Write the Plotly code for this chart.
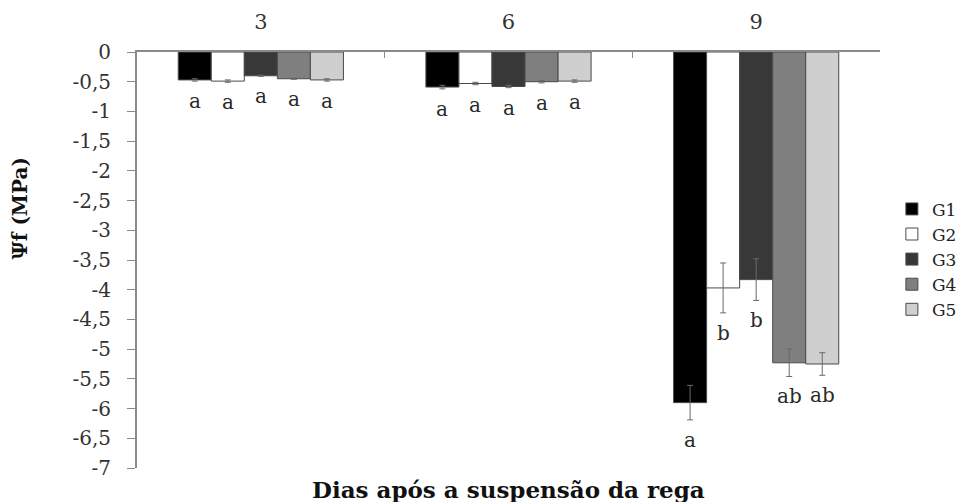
import plotly.graph_objects as go

days = ["3", "6", "9"]
groups = ["G1", "G2", "G3", "G4", "G5"]
values = {
    "G1": [-0.47, -0.59, -5.90],
    "G2": [-0.49, -0.53, -3.97],
    "G3": [-0.40, -0.58, -3.83],
    "G4": [-0.45, -0.50, -5.23],
    "G5": [-0.47, -0.49, -5.25],
}
errors = {
    "G1": [0.02, 0.03, 0.29],
    "G2": [0.02, 0.02, 0.42],
    "G3": [0.01, 0.02, 0.35],
    "G4": [0.01, 0.02, 0.23],
    "G5": [0.02, 0.02, 0.19],
}
letters = {
    "G1": ["a", "a", "a"],
    "G2": ["a", "a", "b"],
    "G3": ["a", "a", "b"],
    "G4": ["a", "a", "ab"],
    "G5": ["a", "a", "ab"],
}
colors = ["#000000", "#ffffff", "#383838", "#7f7f7f", "#cfcfcf"]
tick_vals = [0, -0.5, -1, -1.5, -2, -2.5, -3, -3.5, -4, -4.5, -5, -5.5, -6, -6.5, -7]
tick_text = ["0", "-0,5", "-1", "-1,5", "-2", "-2,5", "-3", "-3,5", "-4", "-4,5",
             "-5", "-5,5", "-6", "-6,5", "-7"]

FONT = "DejaVu Serif, Liberation Serif, serif"
fig = go.Figure()
for g, c in zip(groups, colors):
    fig.add_trace(go.Bar(
        name=g, x=days, y=values[g], offsetgroup=g,
        marker=dict(color=c, line=dict(color="#4a4a4a", width=1)),
        error_y=dict(type="data", array=errors[g], color="#6a6a6a", thickness=1, width=3),
    ))

# letters under bars (positions derived from the data)
n = len(groups)
bargap = 0.333
bw = (1 - bargap) / n
for i, g in enumerate(groups):
    for j, d in enumerate(days):
        xpos = j - (1 - bargap) / 2 + bw * (i + 0.5)
        fig.add_annotation(
            x=xpos, y=values[g][j] - errors[g][j], xref="x", yref="y",
            text=letters[g][j], showarrow=False, yanchor="top", yshift=-6,
            font=dict(family=FONT, size=20, color="#2a2a2a"),
        )

fig.add_annotation(
    x=0.5, y=0, xref="paper", yref="paper", yanchor="top", yshift=-6,
    text="<b>Dias após a suspensão da rega</b>", showarrow=False,
    font=dict(family=FONT, size=23, color="#111111"),
)
fig.add_annotation(
    x=-0.158, xref="paper", y=0.623, yref="paper", xanchor="center", yanchor="middle",
    text="<b>Ψf (MPa)</b>", showarrow=False, textangle=-90,
    font=dict(family=FONT, size=20, color="#111111"),
)

fig.update_layout(
    width=967, height=502,
    margin=dict(l=137, r=87, t=52, b=34, autoexpand=False),
    paper_bgcolor="white", plot_bgcolor="white",
    barmode="group", bargap=bargap, bargroupgap=0,
    font=dict(family=FONT, size=19, color="#333333"),
    showlegend=True,
    legend=dict(x=1.016, y=0.665, xanchor="left", yanchor="top",
                font=dict(family=FONT, size=17, color="#222222"),
                itemwidth=30, tracegroupgap=0, bgcolor="rgba(0,0,0,0)"),
    xaxis=dict(type="category", side="top", showline=True, linecolor="#8a8a8a", linewidth=2,
               ticks="inside", ticklen=6, tickcolor="#8a8a8a", tickson="boundaries",
               ticklabelstandoff=13,
               tickfont=dict(family=FONT, size=21, color="#333333"),
               showgrid=False, zeroline=False, range=[-0.5, 2.5]),
    yaxis=dict(range=[-7, 0], showline=True, linecolor="#8a8a8a", linewidth=2,
               ticks="outside", ticklen=8, tickcolor="#8a8a8a",
               ticklabelstandoff=12,
               tickvals=tick_vals, ticktext=tick_text, showgrid=False, zeroline=False,
               tickfont=dict(family=FONT, size=20, color="#333333")),
)

fig.write_html("out.html")
